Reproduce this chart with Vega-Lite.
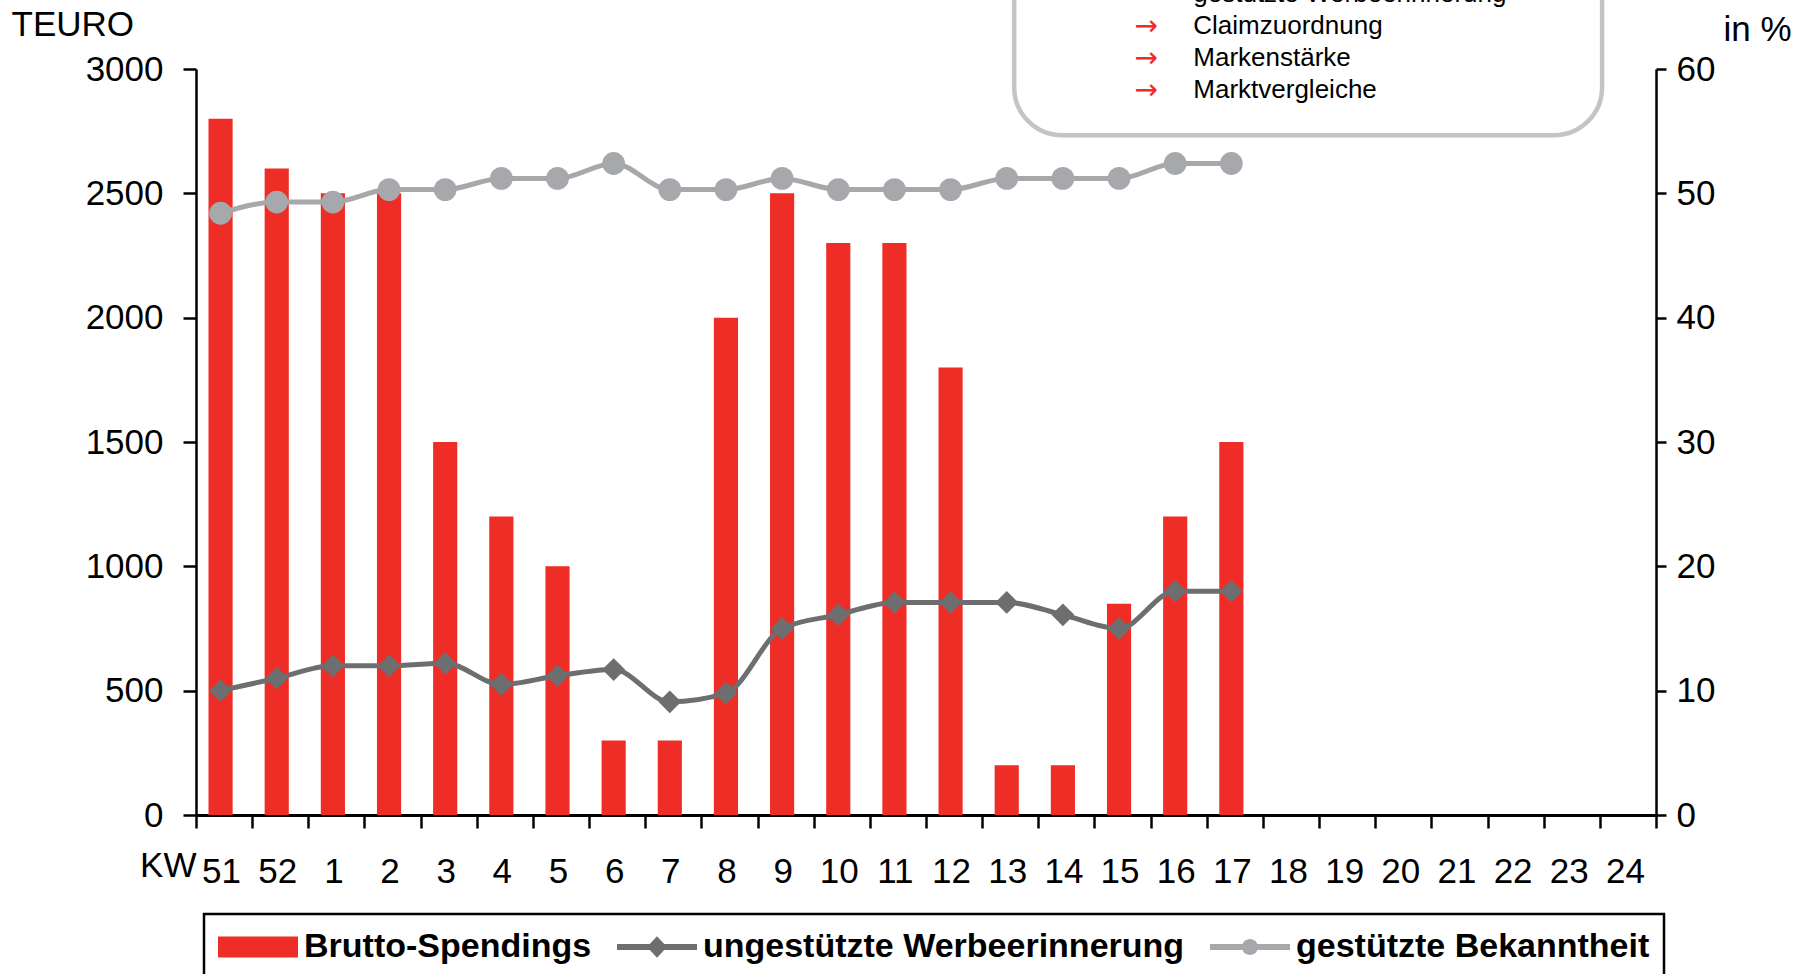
{
  "$schema": "https://vega.github.io/schema/vega-lite/v6.json",
  "width": 1460,
  "height": 746,
  "autosize": {"type": "none"},
  "padding": {"left": 196, "top": 69, "right": 140, "bottom": 159},
  "config": {
    "view": {"stroke": null},
    "font": "Liberation Sans",
    "axis": {
      "grid": false,
      "domainColor": "#000",
      "tickColor": "#000",
      "labelColor": "#000",
      "titleColor": "#000",
      "labelFont": "Liberation Sans",
      "titleFont": "Liberation Sans",
      "labelFontSize": 35,
      "titleFontSize": 35,
      "titleFontWeight": "normal",
      "domainWidth": 2.5,
      "tickWidth": 2.5
    }
  },
  "datasets": {
    "kw": [
      {"KW": "51", "Spend": 2800, "Ung": 10, "Ges": 48.4},
      {"KW": "52", "Spend": 2600, "Ung": 11, "Ges": 49.3},
      {"KW": "1", "Spend": 2500, "Ung": 12, "Ges": 49.3},
      {"KW": "2", "Spend": 2500, "Ung": 12, "Ges": 50.3},
      {"KW": "3", "Spend": 1500, "Ung": 12.2, "Ges": 50.3},
      {"KW": "4", "Spend": 1200, "Ung": 10.5, "Ges": 51.2},
      {"KW": "5", "Spend": 1000, "Ung": 11.2, "Ges": 51.2},
      {"KW": "6", "Spend": 300, "Ung": 11.7, "Ges": 52.4},
      {"KW": "7", "Spend": 300, "Ung": 9.1, "Ges": 50.3},
      {"KW": "8", "Spend": 2000, "Ung": 9.8, "Ges": 50.3},
      {"KW": "9", "Spend": 2500, "Ung": 15, "Ges": 51.2},
      {"KW": "10", "Spend": 2300, "Ung": 16.1, "Ges": 50.3},
      {"KW": "11", "Spend": 2300, "Ung": 17.1, "Ges": 50.3},
      {"KW": "12", "Spend": 1800, "Ung": 17.1, "Ges": 50.3},
      {"KW": "13", "Spend": 200, "Ung": 17.1, "Ges": 51.2},
      {"KW": "14", "Spend": 200, "Ung": 16.1, "Ges": 51.2},
      {"KW": "15", "Spend": 850, "Ung": 15, "Ges": 51.2},
      {"KW": "16", "Spend": 1200, "Ung": 18, "Ges": 52.4},
      {"KW": "17", "Spend": 1500, "Ung": 18, "Ges": 52.4}
    ]
  },
  "layer": [
    {
      "data": {"name": "kw"},
      "layer": [
        {
          "mark": {"type": "bar", "width": {"band": 0.43}, "xOffset": -3.5},
          "encoding": {
            "x": {
              "field": "KW", "type": "ordinal", "sort": null,
              "scale": {"domain": ["51","52","1","2","3","4","5","6","7","8","9","10","11","12","13","14","15","16","17","18","19","20","21","22","23","24"], "paddingInner": 0, "paddingOuter": 0},
              "axis": {
                "title": "KW", "tickBand": "extent", "tickSize": 13, "labelPadding": 43,
                "labelBaseline": "middle", "labelAngle": 0, "domainWidth": 3, "labelOffset": -3,
                "titleX": 0, "titleY": 50, "titleAlign": "right", "titleBaseline": "middle", "titleAnchor": null
              }
            },
            "y": {
              "field": "Spend", "type": "quantitative",
              "scale": {"domain": [0, 3000], "nice": false},
              "axis": {
                "orient": "left", "values": [0, 500, 1000, 1500, 2000, 2500, 3000], "format": "d",
                "tickSize": 13, "labelPadding": 20, "title": "TEURO", "titleAngle": 0,
                "titleX": -185, "titleY": -45, "titleAlign": "left", "titleBaseline": "middle"
              }
            },
            "color": {
              "datum": "Brutto-Spendings", "type": "nominal",
              "scale": {"domain": ["Brutto-Spendings", "ungestützte Werbeerinnerung", "gestützte Bekanntheit"], "range": ["#EE2D26", "#6D6E70", "#A6A8AB"]},
              "legend": {
                "orient": "none", "legendX": 8, "legendY": 845, "direction": "horizontal", "columns": 3,
                "title": null, "labelFontSize": 34, "labelFontWeight": "bold", "labelColor": "#000",
                "labelFont": "Liberation Sans", "labelLimit": 0, "symbolSize": 6400, "labelOffset": 6, "columnPadding": 25,
                "padding": 14, "symbolStrokeWidth": 0,
                "encode": {
                  "legend": {"update": {"stroke": {"value": "#000"}, "strokeWidth": {"value": 2.5}}},
                  "labels": {"update": {"dy": {"value": -21}}},
                  "symbols": {"update": {
                    "shape": {"signal": "datum.value === 'Brutto-Spendings' ? 'M-1,-0.785L1,-0.785L1,-0.265L-1,-0.265Z' : datum.value === 'ungestützte Werbeerinnerung' ? 'M-1,-0.6L1,-0.6L1,-0.45L-1,-0.45Z M-0.25,-0.525L0,-0.795L0.25,-0.525L0,-0.255Z' : 'M-1,-0.6L1,-0.6L1,-0.45L-1,-0.45Z M-0.2,-0.525A0.2,0.2,0,1,1,0.2,-0.525A0.2,0.2,0,1,1,-0.2,-0.525Z'"},
                    "fill": {"signal": "scale('color', datum.value)"},
                    "stroke": {"value": "transparent"},
                    "strokeWidth": {"value": 0},
                    "opacity": {"value": 1},
                    "fillOpacity": {"value": 1},
                    "size": {"value": 6400}
                  }}
                }
              }
            }
          }
        },
        {
          "layer": [
            {
              "mark": {"type": "line", "interpolate": "monotone", "strokeWidth": 5, "xOffset": -3.5},
              "encoding": {
                "x": {"field": "KW", "type": "ordinal", "sort": null, "scale": {"domain": ["51","52","1","2","3","4","5","6","7","8","9","10","11","12","13","14","15","16","17","18","19","20","21","22","23","24"]}},
                "y": {"field": "Ung", "type": "quantitative", "scale": {"domain": [0, 60], "nice": false},
                  "axis": {"orient": "right", "values": [0, 10, 20, 30, 40, 50, 60], "tickSize": 10, "labelPadding": 10, "title": "in %", "titleAngle": 0, "titleX": 67, "titleY": -40, "titleAlign": "left", "titleBaseline": "middle"}},
                "color": {"datum": "ungestützte Werbeerinnerung", "type": "nominal"}
              }
            },
            {
              "mark": {"type": "point", "shape": "diamond", "filled": true, "size": 520, "opacity": 1, "strokeWidth": 0, "xOffset": -3.5},
              "encoding": {
                "x": {"field": "KW", "type": "ordinal", "sort": null, "scale": {"domain": ["51","52","1","2","3","4","5","6","7","8","9","10","11","12","13","14","15","16","17","18","19","20","21","22","23","24"]}},
                "y": {"field": "Ung", "type": "quantitative", "scale": {"domain": [0, 60], "nice": false},
                  "axis": {"orient": "right", "values": [0, 10, 20, 30, 40, 50, 60], "tickSize": 10, "labelPadding": 10, "title": "in %", "titleAngle": 0, "titleX": 67, "titleY": -40, "titleAlign": "left", "titleBaseline": "middle"}},
                "color": {"datum": "ungestützte Werbeerinnerung", "type": "nominal"}
              }
            },
            {
              "mark": {"type": "line", "interpolate": "monotone", "strokeWidth": 5, "xOffset": -3.5},
              "encoding": {
                "x": {"field": "KW", "type": "ordinal", "sort": null, "scale": {"domain": ["51","52","1","2","3","4","5","6","7","8","9","10","11","12","13","14","15","16","17","18","19","20","21","22","23","24"]}},
                "y": {"field": "Ges", "type": "quantitative", "scale": {"domain": [0, 60], "nice": false},
                  "axis": {"orient": "right", "values": [0, 10, 20, 30, 40, 50, 60], "tickSize": 10, "labelPadding": 10, "title": "in %", "titleAngle": 0, "titleX": 67, "titleY": -40, "titleAlign": "left", "titleBaseline": "middle"}},
                "color": {"datum": "gestützte Bekanntheit", "type": "nominal"}
              }
            },
            {
              "mark": {"type": "point", "shape": "circle", "filled": true, "size": 520, "opacity": 1, "strokeWidth": 0, "xOffset": -3.5},
              "encoding": {
                "x": {"field": "KW", "type": "ordinal", "sort": null, "scale": {"domain": ["51","52","1","2","3","4","5","6","7","8","9","10","11","12","13","14","15","16","17","18","19","20","21","22","23","24"]}},
                "y": {"field": "Ges", "type": "quantitative", "scale": {"domain": [0, 60], "nice": false},
                  "axis": {"orient": "right", "values": [0, 10, 20, 30, 40, 50, 60], "tickSize": 10, "labelPadding": 10, "title": "in %", "titleAngle": 0, "titleX": 67, "titleY": -40, "titleAlign": "left", "titleBaseline": "middle"}},
                "color": {"datum": "gestützte Bekanntheit", "type": "nominal"}
              }
            }
          ]
        }
      ],
      "resolve": {"scale": {"y": "independent"}}
    },
    {
      "data": {"values": [{}]},
      "layer": [
        {
          "mark": {"type": "rect", "fill": "#fff", "stroke": "#C4C4C4", "strokeWidth": 4.5, "cornerRadius": 48},
          "encoding": {
            "x": {"datum": 14.57, "type": "quantitative", "scale": {"domain": [0, 26], "nice": false, "zero": false}, "axis": null},
            "x2": {"datum": 25.04},
            "y": {"datum": 2734, "type": "quantitative", "scale": {"domain": [0, 3000], "nice": false, "zero": false}, "axis": null},
            "y2": {"datum": 3500}
          }
        },
        {
          "mark": {"type": "text", "align": "center", "baseline": "top", "fontSize": 28, "lineHeight": 32, "color": "#EE2D26", "font": "DejaVu Sans"},
          "encoding": {
            "x": {"datum": 16.92, "type": "quantitative"},
            "y": {"datum": 3353, "type": "quantitative"},
            "text": {"value": ["→", "→", "→", "→"]}
          }
        },
        {
          "mark": {"type": "text", "align": "left", "baseline": "top", "fontSize": 26, "lineHeight": 32, "color": "#000"},
          "encoding": {
            "x": {"datum": 17.76, "type": "quantitative"},
            "y": {"datum": 3353, "type": "quantitative"},
            "text": {"value": ["gestützte Werbeerinnerung", "Claimzuordnung", "Markenstärke", "Marktvergleiche"]}
          }
        }
      ]
    }
  ],
  "resolve": {"scale": {"x": "independent", "y": "independent"}}
}
